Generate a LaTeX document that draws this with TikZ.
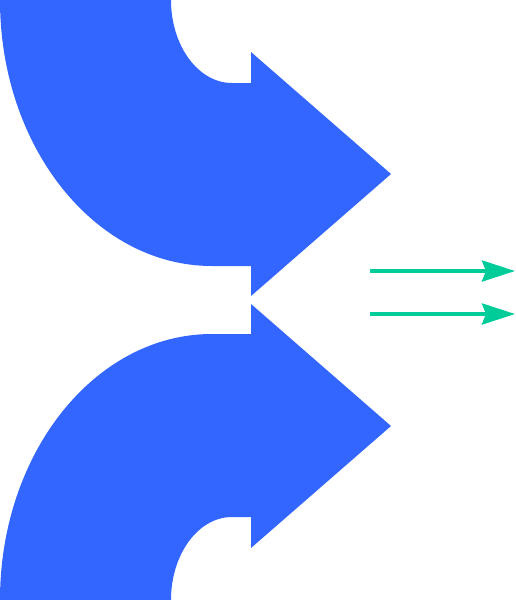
\documentclass[tikz,border=0pt]{standalone}
\usepackage{tikz}
\usetikzlibrary{arrows.meta}
\definecolor{bendblue}{RGB}{51,102,255}
\definecolor{flowgreen}{RGB}{0,204,153}
\tikzset{bendarrow/.style={fill=bendblue, draw=none},
         flow/.style={draw=flowgreen, line width=4pt,
                      -{Stealth[length=33pt, width=21pt, inset=4pt]}}}
\begin{document}
\begin{tikzpicture}[x=1pt, y=-1pt]
    \useasboundingbox (0,0) rectangle (516,600);

    % upper bent arrow
    \fill[bendarrow] (0,0) arc[start angle=180, end angle=90, x radius=212, y radius=266]
        -- (251,266) -- (251,296) -- (391,174) -- (251,52) -- (251,83) -- (232,83)
        arc[start angle=90, end angle=180, x radius=61, y radius=83] -- cycle;

    % lower bent arrow
    \fill[bendarrow] (0,600) arc[start angle=180, end angle=270, x radius=212, y radius=266]
        -- (251,334) -- (251,304) -- (391,426) -- (251,548) -- (251,517) -- (232,517)
        arc[start angle=270, end angle=180, x radius=61, y radius=83] -- cycle;

    % outgoing flow
    \coordinate (f1s) at (370,271);
    \coordinate (f1e) at (515,271);
    \coordinate (f2s) at (370,314);
    \coordinate (f2e) at (515,314);

    \draw[flow] (f1s) -- (f1e);
    \draw[flow] (f2s) -- (f2e);
\end{tikzpicture}
\end{document}
